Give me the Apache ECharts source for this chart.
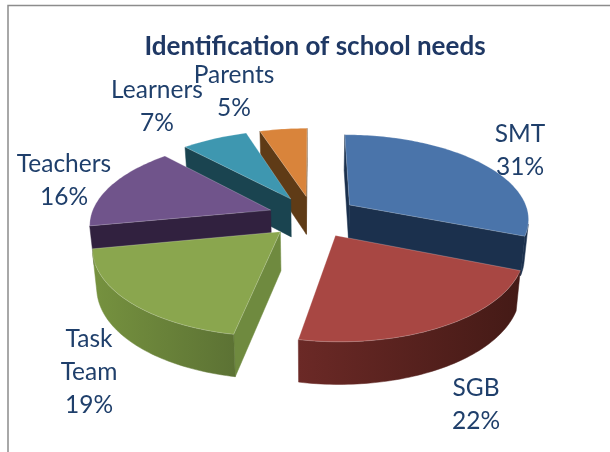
<!DOCTYPE html>
<html><head><meta charset="utf-8">
<style>html,body{margin:0;padding:0;background:#fff}#c{width:610px;height:452px}</style>
<script src="https://cdn.jsdelivr.net/npm/echarts@6/dist/echarts.min.js"></script>
</head><body><div id="c"></div>
<script>
const titleText = 'Identification of school needs';
const categories = ['SMT', 'SGB', 'Task Team', 'Teachers', 'Learners', 'Parents'];
const values = [31, 22, 19, 16, 7, 5];

const topColors = ['#4a74aa', '#a84743', '#8aa64e', '#70548b', '#3e97b0', '#d9843b'];
const edgeColors = ['#1b304d', '#4a1c19', '#6f8a3f', '#31213f', '#1a4450', '#5f3b16'];
const arcGradients = [
  ['#1b304d', '#1b304d'], ['#6b2926', '#441a16'], ['#76923f', '#5c7234'],
  ['#3a2749', '#2e1f3c'], ['#1a4450', '#1a4450'], ['#5f3b16', '#5f3b16']
];
const labelPositions = [[520, 151], [476, 405], [89, 372], [64, 181], [157, 107], [234, 92]];
const TEXT = '#1f3f6b';
const FONT = 'Lato';

const view = { cx: 313, cy: 216.5, R: 180, r: 84, p: 0.15, explode: 0.25, depth: 38.5, converge: 0.98 };
const total = values.reduce((a, b) => a + b, 0);
const starts = []; values.reduce((acc, v, i) => (starts[i] = acc, acc + v), 0);

function project(X, Y) {
  const w = 1 + view.p * Y;
  return { x: view.cx + view.R * X / w, y: view.cy - view.r * Y / w, d: view.depth / Math.sqrt(w) };
}
const top_ = q => [q.x, q.y];
const bot_ = q => [view.cx + (q.x - view.cx) * view.converge, q.y + q.d];
function area(pts) {
  let s = 0;
  pts.forEach((a, i) => { const b = pts[(i + 1) % pts.length]; s += a[0] * b[1] - b[0] * a[1]; });
  return s;
}
function renderSlice(params, api) {
  const i = params.dataIndex;
  const v = api.value(0);
  const a0 = starts[i] / total * 2 * Math.PI, a1 = (starts[i] + v) / total * 2 * Math.PI;
  const mid = (a0 + a1) / 2;
  const ax = view.explode * Math.sin(mid), ay = view.explode * Math.cos(mid);
  const rank = Math.round((1 - Math.cos(mid)) * 10);
  const n = Math.max(8, Math.round(v * 3));
  const arc = [];
  for (let k = 0; k <= n; k++) {
    const t = a0 + (a1 - a0) * k / n;
    arc.push(project(ax + Math.sin(t), ay + Math.cos(t)));
  }
  const apex = project(ax, ay);
  const children = [];
  const poly = (pts, fill, z, stroke) => children.push({
    type: 'polygon', z2: rank * 10 + z, shape: { points: pts },
    style: { fill, stroke: stroke || fill, lineWidth: stroke ? 0.8 : 0.5 }
  });
  const q0 = [top_(apex), top_(arc[0]), bot_(arc[0]), bot_(apex)];
  if (area(q0) < 0) poly(q0, edgeColors[i], 1);
  const q1 = [top_(apex), top_(arc[n]), bot_(arc[n]), bot_(apex)];
  if (area(q1) > 0) poly(q1, edgeColors[i], 1);
  // visible part of the outer wall
  const vis = [];
  for (let k = 0; k < n; k++) {
    const s = [top_(arc[k]), top_(arc[k + 1]), bot_(arc[k + 1]), bot_(arc[k])];
    if (area(s) < 0) { vis.push(k); }
  }
  if (vis.length) {
    const f = vis[0], l = vis[vis.length - 1] + 1;
    const pts = [];
    for (let k = f; k <= l; k++) pts.push(top_(arc[k]));
    for (let k = l; k >= f; k--) pts.push(bot_(arc[k]));
    const g = new echarts.graphic.LinearGradient(0, 0, 1, 0, [
      { offset: 0, color: arcGradients[i][0] }, { offset: 1, color: arcGradients[i][1] }
    ]);
    poly(pts, g, 2);
  }
  poly([top_(apex)].concat(arc.map(top_)), topColors[i], 3, 'rgba(255,255,255,0.28)');
  return { type: 'group', children };
}
function renderLabel(params, api) {
  const i = params.dataIndex;
  return {
    type: 'text', z2: 1000, x: labelPositions[i][0], y: labelPositions[i][1],
    style: {
      text: categories[i].replace(' ', '\n') + '\n' + api.value(0) + '%',
      fill: TEXT, font: '24.5px ' + FONT, align: 'center', verticalAlign: 'middle', lineHeight: 33
    }
  };
}
const chart = echarts.init(document.getElementById('c'), null, { renderer: 'canvas' });
chart.setOption({
  animation: false,
  backgroundColor: '#fff',
  title: {
    text: titleText, left: 310, top: 29, textAlign: 'center',
    textStyle: { color: '#1f3864', fontFamily: FONT, fontWeight: 'bold', fontSize: 26 }
  },
  graphic: [{
    type: 'polyline', z: -1, shape: { points: [[8, 452], [8, 5.5], [610, 5.5]] },
    style: { stroke: '#8c8c8c', lineWidth: 1.5, fill: null }
  }],
  series: [
    { type: 'custom', coordinateSystem: 'none', renderItem: renderSlice, data: values.map(v => [v]), z: 2, silent: true },
    { type: 'custom', coordinateSystem: 'none', renderItem: renderLabel, data: values.map(v => [v]), z: 3, silent: true }
  ]
});
</script></body></html>
